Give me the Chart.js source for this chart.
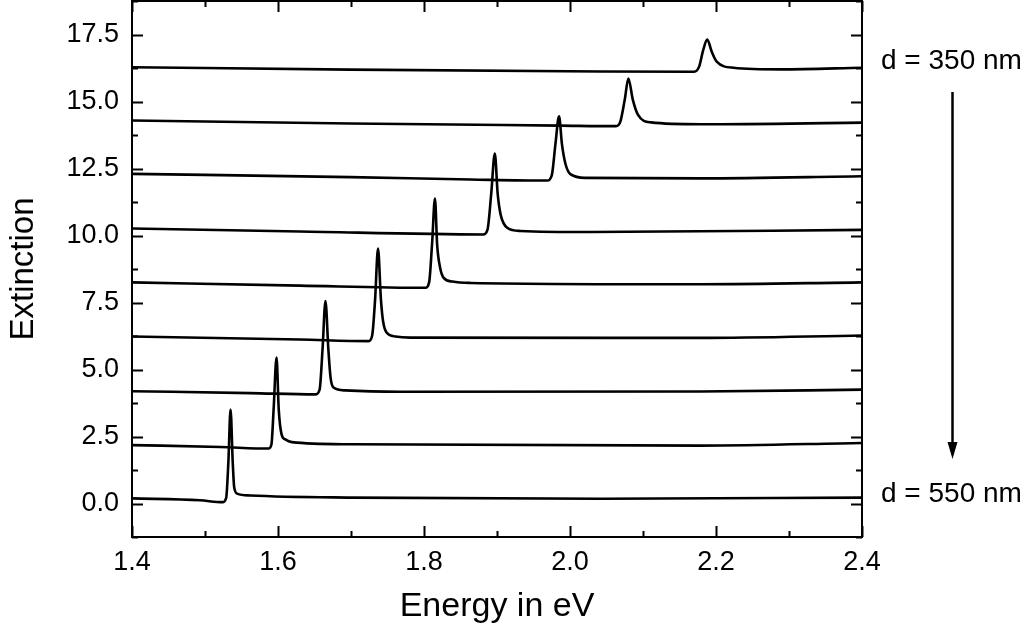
<!DOCTYPE html>
<html>
<head>
  <meta charset="utf-8" />
  <title>Extinction</title>
  <script src="https://cdn.jsdelivr.net/npm/chart.js@4/dist/chart.umd.min.js"></script>
  <style>
    html, body { margin: 0; padding: 0; background: #fff; }
    #wrap { width: 1033px; height: 636px; }
  </style>
</head>
<body>
  <div id="wrap">
    <canvas id="myChart" width="1033" height="636"></canvas>
  </div>

  <script>
    // spectra, [energy in eV, extinction], bottom (d = 550 nm) to top (d = 350 nm)
    const curve1 = [[1.400, 0.19], [1.493, 0.12], [1.524, 0.05], [1.529, 0.21], [1.532, 1.53], [1.535, 3.51],
      [1.538, 1.53], [1.540, 0.60], [1.544, 0.37], [1.562, 0.30], [1.699, 0.22], [2.042, 0.18], [2.400, 0.22]];
    const curve2 = [[1.400, 2.18], [1.521, 2.11], [1.587, 2.05], [1.591, 2.20], [1.594, 3.51], [1.598, 5.45],
      [1.601, 3.51], [1.605, 2.57], [1.610, 2.39], [1.619, 2.29], [1.699, 2.21], [2.179, 2.16], [2.400, 2.26]];
    const curve3 = [[1.400, 4.19], [1.562, 4.12], [1.651, 4.07], [1.657, 4.25], [1.661, 5.75], [1.665, 7.55],
      [1.669, 5.75], [1.672, 4.70], [1.676, 4.33], [1.692, 4.22], [1.768, 4.17], [2.179, 4.18], [2.400, 4.25]];
    const curve4 = [[1.400, 6.23], [1.630, 6.12], [1.724, 6.06], [1.729, 6.27], [1.733, 7.61], [1.737, 9.51],
      [1.741, 7.61], [1.744, 6.79], [1.749, 6.37], [1.761, 6.23], [1.781, 6.19], [2.179, 6.18], [2.400, 6.27]];
    const curve5 = [[1.400, 8.25], [1.630, 8.13], [1.802, 8.05], [1.807, 8.25], [1.811, 9.66], [1.815, 11.38],
      [1.818, 9.66], [1.822, 8.81], [1.827, 8.42], [1.839, 8.28], [1.864, 8.23], [2.179, 8.18], [2.400, 8.25]];
    const curve6 = [[1.400, 10.26], [1.630, 10.15], [1.881, 10.04], [1.887, 10.22], [1.892, 11.53], [1.897, 13.06],
      [1.901, 11.53], [1.905, 10.78], [1.914, 10.29], [1.932, 10.17], [2.028, 10.13], [2.400, 10.21]];
    const curve7 = [[1.400, 12.30], [1.699, 12.18], [1.864, 12.09], [1.969, 12.05], [1.975, 12.24], [1.980, 13.40],
      [1.985, 14.45], [1.989, 13.40], [1.994, 12.65], [2.001, 12.28], [2.021, 12.15], [2.179, 12.13], [2.400, 12.21]];
    const curve8 = [[1.400, 14.29], [1.699, 14.18], [1.987, 14.10], [2.063, 14.08], [2.069, 14.25], [2.075, 15.07],
      [2.080, 15.86], [2.086, 15.07], [2.093, 14.51], [2.111, 14.22], [2.179, 14.15], [2.400, 14.21]];
    const curve9 = [[1.400, 16.28], [1.699, 16.19], [2.042, 16.12], [2.170, 16.11], [2.177, 16.31], [2.182, 16.87],
      [2.188, 17.31], [2.194, 16.87], [2.201, 16.49], [2.224, 16.26], [2.289, 16.20], [2.400, 16.26]];

    const curves = [curve1, curve2, curve3, curve4, curve5, curve6, curve7, curve8, curve9];

    const xRange = [1.4, 2.4];
    const yRange = [-1.25, 18.75];
    const xTitle = 'Energy in eV';
    const yTitle = 'Extinction';
    const topLabel = 'd = 350 nm';
    const bottomLabel = 'd = 550 nm';

    const FONT = "'Liberation Sans', Arial, Helvetica, sans-serif";

    const datasets = curves.map((c, i) => ({
      label: 'curve ' + (i + 1),
      data: c.map(p => ({ x: p[0], y: p[1] })),
      borderColor: '#000',
      borderWidth: 2.6,
      pointRadius: 0,
      cubicInterpolationMode: 'monotone',
      fill: false,
    }));

    function isMajorX(v) { return Math.round(v * 10) % 2 === 0; }
    function isMajorY(v) { return Math.round(v / 1.25) % 2 === 0; }

    // frame with inward ticks on all four sides + the thickness arrow
    const framePlugin = {
      id: 'frame',
      afterDraw(chart) {
        const ctx = chart.ctx;
        const a = chart.chartArea;
        const xs = chart.scales.x, ys = chart.scales.y;
        ctx.save();
        ctx.strokeStyle = '#000';
        ctx.lineWidth = 2;
        ctx.strokeRect(a.left, a.top, a.right - a.left, a.bottom - a.top);

        ctx.beginPath();
        xs.ticks.forEach(t => {
          const px = Math.round(xs.getPixelForValue(t.value)) + 0.5;
          const len = isMajorX(t.value) ? 11 : 6;
          ctx.moveTo(px, a.bottom); ctx.lineTo(px, a.bottom - len);
          ctx.moveTo(px, a.top); ctx.lineTo(px, a.top + len);
        });
        ys.ticks.forEach(t => {
          const py = Math.round(ys.getPixelForValue(t.value)) + 0.5;
          const len = isMajorY(t.value) ? 11 : 6;
          ctx.moveTo(a.left, py); ctx.lineTo(a.left + len, py);
          ctx.moveTo(a.right, py); ctx.lineTo(a.right - len, py);
        });
        ctx.stroke();

        // labels right of the plot
        ctx.fillStyle = '#000';
        ctx.font = '28px ' + FONT;
        ctx.textAlign = 'left';
        ctx.textBaseline = 'middle';
        ctx.fillText(topLabel, a.right + 19, ys.getPixelForValue(16.5));
        ctx.fillText(bottomLabel, a.right + 19, ys.getPixelForValue(0.33));

        // arrow
        const ax = a.right + 90.5;
        const y0 = ys.getPixelForValue(15.35);
        const y1 = ys.getPixelForValue(1.66);
        ctx.lineWidth = 2.5;
        ctx.beginPath();
        ctx.moveTo(ax, y0); ctx.lineTo(ax, y1 - 14);
        ctx.stroke();
        ctx.beginPath();
        ctx.moveTo(ax - 5, y1 - 17);
        ctx.lineTo(ax + 5, y1 - 17);
        ctx.lineTo(ax, y1);
        ctx.closePath();
        ctx.fill();
        ctx.restore();
      }
    };

    const chart = new Chart(document.getElementById('myChart').getContext('2d'), {
      type: 'line',
      data: { datasets: datasets },
      options: {
        responsive: false,
        animation: false,
        devicePixelRatio: 1,
        layout: { padding: { top: 1, right: 171, left: 0, bottom: 0 } },
        plugins: { legend: { display: false }, tooltip: { enabled: false } },
        scales: {
          x: {
            type: 'linear',
            min: xRange[0], max: xRange[1],
            grid: { display: false, drawTicks: false },
            border: { display: false },
            ticks: {
              stepSize: 0.1,
              autoSkip: false,
              maxRotation: 0,
              padding: 9,
              color: '#000',
              font: { family: FONT, size: 27 },
              callback: v => isMajorX(v) ? v.toFixed(1) : ''
            },
            title: {
              display: true, text: xTitle, color: '#000',
              font: { family: FONT, size: 34 },
              padding: { top: 0, bottom: 9 }
            },
            afterFit: s => { s.height = 99; s.paddingLeft = 0; s.paddingRight = 0; }
          },
          y: {
            type: 'linear',
            min: yRange[0], max: yRange[1],
            grid: { display: false, drawTicks: false },
            border: { display: false },
            ticks: {
              stepSize: 1.25,
              autoSkip: false,
              padding: 13,
              color: '#000',
              font: { family: FONT, size: 27 },
              callback: v => isMajorY(v) ? v.toFixed(1) : ''
            },
            title: {
              display: true, text: yTitle, color: '#000',
              font: { family: FONT, size: 33 },
              padding: { top: 4, bottom: 0 }
            },
            afterFit: s => { s.width = 132; s.paddingTop = 0; s.paddingBottom = 0; }
          }
        }
      },
      plugins: [framePlugin]
    });
  </script>
</body>
</html>
